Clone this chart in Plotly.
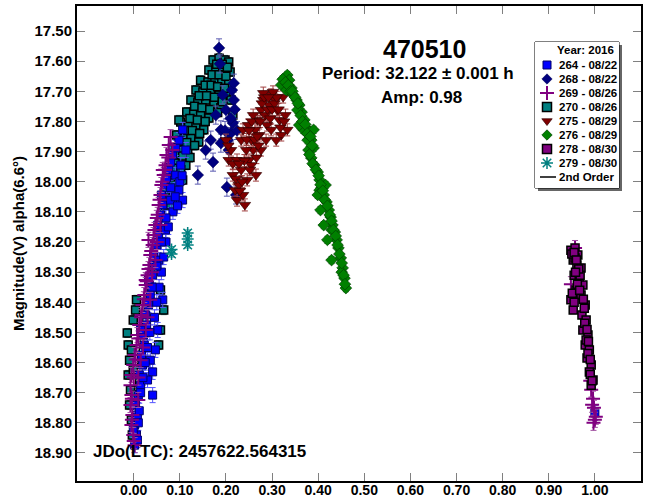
import plotly.graph_objects as go

# ---------------- data (phase, magnitude) ----------------
p264 = [0.002, 0.006, 0.002, 0.008, 0.004, 0.010, 0.015, 0.012, 0.019, 0.017, 0.023, 0.021, 0.028, 0.026,
        0.032, 0.036, 0.034, 0.041, 0.045, 0.043, 0.050, 0.054, 0.052, 0.058, 0.063, 0.060, 0.067, 0.071,
        0.076, 0.080, 0.084, 0.091, 0.098, 0.106, 0.041, 0.041, 0.052, 0.063, 0.080, 0.091,
        0.102, 0.113, 0.098, 0.106, 0.032, 0.015, 0.054, 0.069, 1.000, 0.008, -0.001, 0.036, 0.047, 0.030,
        0.045, 0.050, 0.055, 0.060, 0.065, 0.070, 0.075, 0.085, 0.090, 0.100, 0.025, 0.030, 0.035, 0.015,
        0.020, 0.010, 0.012, 0.028, 0.040, 0.050, 0.060, 0.070, 0.080, 0.105, 0.095]
m264 = [18.874, 18.840, 18.807, 18.774, 18.741, 18.708, 18.675, 18.641, 18.608, 18.575, 18.542, 18.509, 18.475, 18.442,
        18.409, 18.376, 18.343, 18.310, 18.276, 18.243, 18.210, 18.177, 18.144, 18.110, 18.077, 18.044, 18.011, 17.988,
        17.961, 17.935, 17.911, 17.888, 17.862, 17.828, 18.631, 18.708, 18.492, 18.392, 18.061, 17.978,
        17.945, 17.895, 18.028, 18.061, 18.326, 18.492, 18.260, 18.160, 18.767, 18.857, 18.824, 18.592, 18.558, 18.658,
        18.450, 18.400, 18.350, 18.300, 18.250, 18.200, 18.150, 18.100, 18.050, 18.000, 18.600, 18.550, 18.500, 18.700,
        18.650, 18.800, 18.760, 18.400, 18.350, 18.280, 18.200, 18.120, 18.020, 17.980, 18.080]

p268 = [0.185, 0.187, 0.213, 0.217, 0.217, 0.193, 0.200, 0.178, 0.215, 0.211, 0.189, 0.204, 0.189, 0.167, 0.206,
        0.156, 0.172, 0.139, 0.202, 0.222, 0.219, 0.224, 0.210, 0.198]
m268 = [17.556, 17.609, 17.696, 17.673, 17.729, 17.712, 17.762, 17.779, 17.805, 17.838, 17.828, 17.862, 17.872, 17.862, 17.895,
        17.895, 17.935, 17.978, 18.018, 18.044, 17.760, 17.830, 17.790, 17.830]

p269 = [0.080, 0.076, 0.071, 0.069, 0.065, 0.060, 0.058, 0.054, 0.052, 0.047, 0.043, 0.041, 0.036, 0.034, 0.030, 0.026,
        0.023, 0.019, 0.017, 0.012, 0.008, 0.006, 0.002, -0.001, -0.005, -0.007, -0.005, -0.007, -0.003, -0.005, -0.001, 0.002,
        0.058, 0.047, 0.036, 0.026, 0.015, 0.010, 0.032, 0.063, 0.084, 0.026,
        0.075, 0.068, 0.062, 0.056, 0.050, 0.045, 0.038, 0.032, 0.028, 0.022, 0.016, 0.010, 0.004, 0.000, -0.004, -0.004,
        0.000, 0.020, 0.030, 0.040, 0.050, 0.010,
        0.992, 0.996, 0.998, 1.000, 0.994, 0.997, 0.990, 1.002, 0.957, 0.948]
m269 = [17.852, 17.878, 17.911, 17.945, 17.978, 18.011, 18.044, 18.077, 18.110, 18.144, 18.177, 18.210, 18.243, 18.276, 18.310, 18.343,
        18.376, 18.409, 18.442, 18.475, 18.509, 18.542, 18.575, 18.608, 18.641, 18.675, 18.708, 18.741, 18.774, 18.807, 18.840, 18.874,
        18.144, 18.260, 18.392, 18.492, 18.592, 18.724, 18.193, 17.961, 17.895, 18.326,
        17.920, 17.960, 18.000, 18.060, 18.120, 18.160, 18.230, 18.290, 18.330, 18.390, 18.450, 18.520, 18.590, 18.650, 18.720, 18.790,
        18.860, 18.550, 18.450, 18.300, 18.200, 18.650,
        18.690, 18.720, 18.750, 18.790, 18.740, 18.800, 18.660, 18.780, 18.220, 18.340]

p270 = [0.172, 0.185, 0.198, 0.206, 0.163, 0.178, 0.193, 0.209, 0.145, 0.161, 0.176, 0.191, 0.206, 0.135, 0.150, 0.167,
        0.185, 0.200, 0.124, 0.139, 0.156, 0.174, 0.189, 0.115, 0.130, 0.145, 0.163, 0.102, 0.119, 0.135, 0.152, 0.093,
        0.108, 0.124, 0.141, 0.084, 0.102, 0.117, 0.080, 0.095, 0.113, 0.076, 0.091, 0.106, 0.069, 0.084, 0.065, 0.080,
        0.098, 0.211, 0.215,
        0.180, 0.192, 0.203, 0.170, 0.185, 0.200, 0.155, 0.168, 0.182, 0.197, 0.142, 0.158, 0.175, 0.192, 0.132, 0.148,
        0.165, 0.182, 0.122, 0.138, 0.155, 0.110, 0.127, 0.143, 0.100, 0.115, 0.132, 0.090, 0.106, 0.122, 0.086, 0.102,
        0.073, 0.088, 0.070, 0.085,
        -0.014, -0.012, -0.009, -0.012, -0.007, -0.009, -0.005, -0.003, -0.001, 0.004, -0.005, -0.001, 0.006, 0.002,
        0.058, 0.065, 0.058, 0.054]
m270 = [17.596, 17.590, 17.596, 17.603, 17.629, 17.629, 17.629, 17.636, 17.663, 17.669, 17.663, 17.669, 17.676, 17.696, 17.702, 17.696,
        17.712, 17.706, 17.729, 17.736, 17.729, 17.746, 17.755, 17.769, 17.769, 17.779, 17.789, 17.802, 17.812, 17.812, 17.828, 17.845,
        17.845, 17.855, 17.868, 17.888, 17.895, 17.901, 17.935, 17.938, 17.945, 17.978, 17.988, 17.994, 18.028, 18.034, 18.077, 18.077,
        17.795, 17.729, 17.779,
        17.610, 17.610, 17.620, 17.645, 17.645, 17.650, 17.680, 17.680, 17.685, 17.690, 17.715, 17.715, 17.720, 17.735, 17.750, 17.755,
        17.760, 17.770, 17.790, 17.795, 17.800, 17.830, 17.830, 17.840, 17.865, 17.870, 17.880, 17.910, 17.915, 17.920, 17.955, 17.960,
        18.005, 18.010, 18.050, 18.055,
        18.502, 18.542, 18.592, 18.641, 18.691, 18.741, 18.791, 18.840, 18.459, 18.426, 18.558, 18.625, 18.392, 18.708,
        18.359, 18.426, 18.492, 18.542]

p275 = [0.200, 0.206, 0.211, 0.215, 0.220, 0.224, 0.228, 0.233, 0.237, 0.241, 0.246, 0.250, 0.255, 0.259, 0.263, 0.268,
        0.272, 0.276, 0.281, 0.285, 0.289, 0.294, 0.298, 0.302, 0.307, 0.311, 0.316, 0.320, 0.281, 0.244, 0.255, 0.265,
        0.276, 0.287, 0.233, 0.224, 0.298, 0.309, 0.259, 0.248, 0.237, 0.329, 0.333, 0.324,
        0.205, 0.215, 0.222, 0.230, 0.235, 0.240, 0.245, 0.250, 0.256, 0.262, 0.266, 0.270, 0.274, 0.278, 0.283, 0.290,
        0.296, 0.300, 0.305, 0.310, 0.314, 0.318, 0.326, 0.228, 0.252, 0.268, 0.292]
m275 = [17.862, 17.928, 17.895, 17.978, 18.028, 18.061, 18.011, 17.961, 18.044, 18.077, 17.994, 17.928, 17.862, 17.895, 17.828, 17.795,
        17.845, 17.762, 17.729, 17.779, 17.812, 17.746, 17.712, 17.702, 17.729, 17.762, 17.795, 17.845, 17.706, 17.895, 17.945, 17.978,
        17.895, 17.862, 17.862, 17.928, 17.828, 17.862, 17.779, 17.812, 17.828, 17.779, 17.828, 17.719,
        17.880, 17.940, 17.990, 18.030, 18.000, 17.930, 17.860, 17.830, 17.800, 17.860, 17.920, 17.880, 17.800, 17.740, 17.720, 17.760,
        17.790, 17.760, 17.740, 17.720, 17.760, 17.820, 17.800, 17.940, 17.960, 17.850, 17.720]

p276 = [0.320, 0.327, 0.333, 0.337, 0.331, 0.342, 0.346, 0.353, 0.359, 0.364, 0.370, 0.374, 0.381, 0.385, 0.390, 0.379,
        0.385, 0.392, 0.399, 0.403, 0.407, 0.412, 0.418, 0.423, 0.427, 0.431, 0.436, 0.440, 0.444, 0.449, 0.453, 0.457,
        0.460, 0.355, 0.368, 0.377, 0.403, 0.416, 0.429, 0.451, 0.359, 0.390, 0.399, 0.412, 0.429, 0.420, 0.405,
        0.323, 0.329, 0.335, 0.340, 0.344, 0.350, 0.356, 0.362, 0.366, 0.372, 0.376, 0.383, 0.387, 0.381, 0.388, 0.395,
        0.401, 0.405, 0.410, 0.414, 0.420, 0.425, 0.429, 0.433, 0.438, 0.442, 0.446, 0.451, 0.455, 0.458]
m276 = [17.679, 17.656, 17.646, 17.663, 17.696, 17.689, 17.712, 17.729, 17.746, 17.769, 17.795, 17.822, 17.835, 17.862, 17.888, 17.895,
        17.921, 17.945, 17.968, 17.994, 18.021, 18.044, 18.067, 18.094, 18.117, 18.144, 18.167, 18.193, 18.220, 18.253, 18.286, 18.320,
        18.353, 17.762, 17.828, 17.862, 18.028, 18.011, 18.160, 18.300, 17.812, 17.828, 18.044, 18.144, 18.260, 18.193, 18.094,
        17.660, 17.670, 17.680, 17.700, 17.700, 17.720, 17.740, 17.780, 17.800, 17.810, 17.840, 17.850, 17.880, 17.910, 17.940, 17.960,
        17.980, 18.010, 18.030, 18.060, 18.080, 18.110, 18.130, 18.160, 18.180, 18.210, 18.240, 18.270, 18.310, 18.340]

p278 = [0.948, 0.957, 0.963, 0.953, 0.961, 0.970, 0.955, 0.966, 0.974, 0.959, 0.948, 0.953, 0.970, 0.979, 0.972, 0.981,
        0.974, 0.985, 0.979, 0.988, 0.983, 0.992, 0.988, 0.996, 0.992, 0.957, 0.968, 0.981,
        0.950, 0.955, 0.960, 0.965, 0.958, 0.962, 0.951, 0.955, 0.967, 0.975, 0.977, 0.978, 0.983, 0.986, 0.985, 0.990,
        0.990, 0.994]
m278 = [18.227, 18.220, 18.243, 18.260, 18.276, 18.286, 18.310, 18.326, 18.343, 18.359, 18.392, 18.426, 18.376, 18.409, 18.442, 18.459,
        18.492, 18.509, 18.542, 18.558, 18.585, 18.608, 18.631, 18.658, 18.675, 18.253, 18.310, 18.525,
        18.240, 18.235, 18.260, 18.290, 18.300, 18.340, 18.370, 18.400, 18.360, 18.390, 18.420, 18.470, 18.490, 18.530, 18.570, 18.590,
        18.640, 18.660]

p279 = [0.117, 0.117, 0.117, 0.082, 0.082]
m279 = [18.170, 18.190, 18.210, 18.225, 18.240]

fit_phase = [0.00, 0.01, 0.02, 0.03, 0.04, 0.05, 0.06, 0.08, 0.10, 0.12, 0.14, 0.16, 0.18]
fit_mag = [18.72, 18.58, 18.45, 18.35, 18.27, 18.20, 18.14, 18.03, 17.94, 17.86, 17.79, 17.74, 17.71]

x_ticks = [0.0, 0.1, 0.2, 0.3, 0.4, 0.5, 0.6, 0.7, 0.8, 0.9, 1.0]
y_ticks = [17.5, 17.6, 17.7, 17.8, 17.9, 18.0, 18.1, 18.2, 18.3, 18.4, 18.5, 18.6, 18.7, 18.8, 18.9]

# ---------------- styles ----------------
series = {
    "264 - 08/22": dict(x=p264, y=m264, sym="square", size=8, fill="#0000FF", lc="#00006a", lw=1, ec="#5555ff", err=0.025),
    "268 - 08/22": dict(x=p268, y=m268, sym="diamond", size=9, fill="#000080", lc="#000050", lw=0.5, ec="#5a5ab0", err=0.03),
    "269 - 08/26": dict(x=p269, y=m269, sym="cross-thin", size=10, fill="#800080", lc="#800080", lw=2, ec="#a050a0", err=0.025),
    "270 - 08/26": dict(x=p270, y=m270, sym="square", size=8, fill="#008080", lc="#000000", lw=1.5, ec="#307070", err=0.015),
    "275 - 08/29": dict(x=p275, y=m275, sym="triangle-down", size=10, fill="#800000", lc="#300000", lw=0.7, ec="#a04040", err=0.02),
    "276 - 08/29": dict(x=p276, y=m276, sym="diamond", size=9, fill="#008000", lc="#004000", lw=0.7, ec="#40a040", err=0.012),
    "278 - 08/30": dict(x=p278, y=m278, sym="square", size=8, fill="#800080", lc="#000000", lw=1.5, ec="#905090", err=0.012),
    "279 - 08/30": dict(x=p279, y=m279, sym="asterisk-open", size=10, fill="#008080", lc="#008080", lw=1.5, ec="#40a0a0", err=0.01),
}
legend_size = {"264 - 08/22": 8, "268 - 08/22": 8, "269 - 08/26": 10, "270 - 08/26": 9,
               "275 - 08/29": 9, "276 - 08/29": 8, "278 - 08/30": 9, "279 - 08/30": 10}
draw_order = ["270 - 08/26", "264 - 08/22", "269 - 08/26", "268 - 08/22", "275 - 08/29",
              "276 - 08/29", "278 - 08/30", "279 - 08/30"]

FONT = "Liberation Sans, Arial, sans-serif"
W, H = 652, 502
L, R, T, B = 77, 11, 6, 21
PW, PH = W - L - R, H - T - B


def px(xp):
    return (xp - L) / PW


def py(yp):
    return 1 - (yp - T) / PH


fig = go.Figure()

fig.add_trace(go.Scatter(x=fit_phase, y=fit_mag, mode="lines", line=dict(color="black", width=1.5),
                         showlegend=False, hoverinfo="skip"))

for name in draw_order:
    s = series[name]
    fig.add_trace(go.Scatter(
        x=s["x"], y=s["y"], mode="markers", name=name, showlegend=False,
        marker=dict(symbol=s["sym"], size=s["size"], color=s["fill"],
                    line=dict(color=s["lc"], width=s["lw"])),
        error_y=dict(type="constant", value=s["err"], color=s["ec"], thickness=1, width=3),
    ))

# ---------------- custom legend (compact, like the reference) ----------------
LX0, LX1, LY0, LY1 = 535, 619, 42, 188
fig.add_shape(type="rect", xref="paper", yref="paper", layer="below",
              x0=px(LX0 + 3), x1=px(LX1 + 3), y0=py(LY1 + 3), y1=py(LY0 + 3),
              line=dict(width=0), fillcolor="#666666")
fig.add_shape(type="rect", xref="paper", yref="paper", layer="below",
              x0=px(LX0), x1=px(LX1), y0=py(LY1), y1=py(LY0),
              line=dict(color="black", width=1), fillcolor="white")

names = list(series.keys())
row0, step = 65, 14
for i, name in enumerate(names):
    s = series[name]
    yy = row0 + step * i
    fig.add_trace(go.Scatter(
        x=[547], y=[yy], mode="markers", xaxis="x2", yaxis="y2", showlegend=False, hoverinfo="skip",
        marker=dict(symbol=s["sym"], size=legend_size[name], color=s["fill"],
                    line=dict(color=s["lc"], width=s["lw"])),
    ))
    fig.add_annotation(x=557, y=yy, xref="x2", yref="y2", text="<b>%s</b>" % name, showarrow=False,
                       xanchor="left", yanchor="middle", font=dict(size=11.5, family=FONT, color="black"))
yy = row0 + step * len(names)
fig.add_trace(go.Scatter(x=[540, 556], y=[yy, yy], mode="lines", xaxis="x2", yaxis="y2", showlegend=False,
                         hoverinfo="skip", line=dict(color="black", width=1.5)))
fig.add_annotation(x=557, y=yy, xref="x2", yref="y2", text="<b>2nd Order</b>", showarrow=False,
                   xanchor="left", yanchor="middle", font=dict(size=11.5, family=FONT, color="black"))
fig.add_annotation(x=616, y=50, xref="x2", yref="y2", text="<b>Year: 2016</b>", showarrow=False,
                   xanchor="right", yanchor="middle", font=dict(size=11.5, family=FONT, color="black"))

# ---------------- titles / annotations ----------------
fig.add_annotation(x=px(424), y=py(33), xref="paper", yref="paper", text="<b>470510</b>", showarrow=False,
                   font=dict(size=25, family=FONT, color="black"))
fig.add_annotation(x=px(418), y=py(62), xref="paper", yref="paper", text="<b>Period: 32.122 ± 0.001 h</b>",
                   showarrow=False, font=dict(size=17, family=FONT, color="black"))
fig.add_annotation(x=px(421), y=py(86), xref="paper", yref="paper", text="<b>Amp: 0.98</b>",
                   showarrow=False, font=dict(size=17, family=FONT, color="black"))
fig.add_annotation(x=px(91), y=py(463), xref="paper", yref="paper", text="<b>JDo(LTC): 2457622.564315</b>",
                   showarrow=False, xanchor="left", font=dict(size=17, family=FONT, color="black"))

axis_common = dict(showgrid=False, zeroline=False, showline=True, linecolor="black", linewidth=2,
                   mirror="ticks", ticks="inside", ticklen=8, tickwidth=1.2, tickcolor="#808080",
                   automargin=False)

fig.update_layout(
    width=W, height=H,
    margin=dict(l=L, r=R, t=T, b=B, pad=0),
    paper_bgcolor="white", plot_bgcolor="white",
    font=dict(family=FONT, color="black"),
    showlegend=False,
    xaxis=dict(range=[-0.123, 1.1], tickvals=x_ticks, tickformat=".2f", ticklabelstandoff=-5,
               tickfont=dict(size=14, family=FONT, color="black", weight="bold"), **axis_common),
    yaxis=dict(range=[18.993, 17.417], tickvals=y_ticks, tickformat=".2f",
               tickfont=dict(size=15, family=FONT, color="black", weight="bold"),
               title=dict(text="Magnitude(V) alpha(6.6°)", standoff=6,
                          font=dict(size=15, family=FONT, color="black", weight="bold")),
               **axis_common),
    xaxis2=dict(domain=[px(LX0), px(LX1)], range=[LX0, LX1], visible=False, anchor="y2", fixedrange=True),
    yaxis2=dict(domain=[py(LY1), py(LY0)], range=[LY1, LY0], visible=False, anchor="x2", fixedrange=True),
)

fig.write_html("out.html")
